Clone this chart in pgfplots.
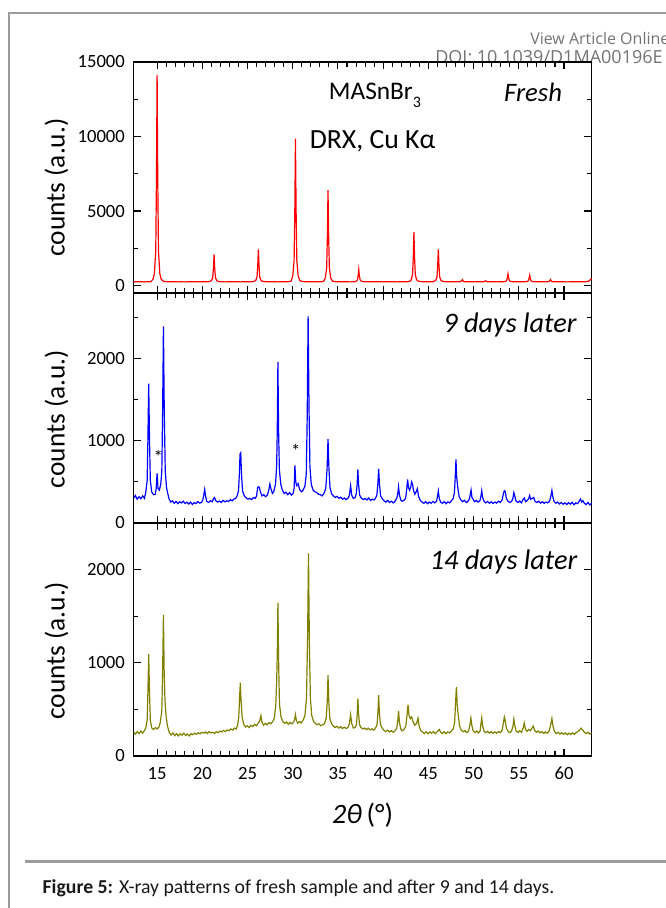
\documentclass[border=0pt]{standalone}
\usepackage{pgfplots}
\pgfplotsset{compat=1.18}
\usepackage{fontspec}
\setmainfont{Carlito}
\newfontfamily\osans{Open Sans}
\definecolor{olivec}{RGB}{128,128,0}
\definecolor{framegray}{RGB}{155,155,155}
\definecolor{doigray}{RGB}{115,115,115}
\pgfplotsset{panel/.style={scale only axis, width=343.5pt, anchor=south west,
  xmin=12.4, xmax=63.05, xtick={15,20,...,60}, minor x tick num=4,
  tick align=inside, major tick length=5.6pt, minor tick length=3.5pt,
  axis line style={line width=0.9pt}, tick style={line width=0.8pt,black},
  ticklabel style={font=\fontsize{14}{14}\selectfont},
  scaled y ticks=false, scaled x ticks=false,
  /pgf/number format/assume math mode=true, /pgf/number format/1000 sep={},
  yticklabel style={xshift=-3pt}, xticklabel style={yshift=-5pt}, clip=true}}
\begin{document}
\begin{tikzpicture}
\useasboundingbox (0pt,0pt) rectangle (498.75pt,681pt);
\draw[framegray, line width=1.6pt] (6.7pt,-5pt) -- (6.7pt,671pt) -- (520pt,671pt);
\draw[framegray, line width=2.4pt] (18.75pt,34.7pt) -- (520pt,34.7pt);
\node[anchor=base west, inner sep=0, text=doigray, font=\osans\fontsize{12}{12}\selectfont] at (397.5pt,647.8pt) {View Article Online};
\node[anchor=base west, inner sep=0, text=doigray, font=\osans\fontsize{13.5}{13}\selectfont] at (326.3pt,633pt) {DOI: 10.1039/D1MA00196E};
\node[anchor=base west, inner sep=0, text=black!90, font=\fontsize{14.8}{15}\selectfont] at (31.8pt,10.5pt) {\textbf{Figure 5:} X-ray patterns of fresh sample and after 9 and 14 days.};

% ---------- Fresh ----------
\begin{axis}[panel, at={(100.2pt,461.25pt)}, height=173.25pt, ymin=-500, ymax=15000,
  ytick={0,5000,10000,15000}, minor ytick={2500,7500,12500}, xticklabel=\empty]
\addplot[red, line width=0.9pt] coordinates {
(12.4,262) (12.8,248) (13.2,255) (13.6,243) (14.0,258) (14.3,262) (14.55,420) (14.7,806) (14.85,2334) (14.93,7195) (15.0,14140) (15.07,7195) (15.15,2334) (15.3,806) (15.45,420) (15.7,290) (16.1,255) (16.5,248) (16.9,258) (17.3,246) (17.7,252) (18.1,243) (18.5,256) (18.9,249) (19.3,258) (19.7,247) (20.1,255) (20.5,250) (20.8,270) (21.0,323) (21.15,525) (21.23,1168) (21.3,2085) (21.37,1168) (21.45,525) (21.6,323) (21.8,268) (22.2,252) (22.6,246) (23.0,257) (23.4,249) (23.8,255) (24.2,246) (24.6,254) (25.0,250) (25.4,258) (25.7,272) (25.9,337) (26.05,576) (26.13,1335) (26.2,2420) (26.27,1335) (26.35,576) (26.5,337) (26.7,275) (27.1,255) (27.5,249) (27.9,258) (28.3,246) (28.7,255) (29.1,251) (29.5,260) (29.8,290) (30.0,634) (30.15,1692) (30.23,5055) (30.3,9860) (30.37,5055) (30.45,1692) (30.6,634) (30.8,330) (31.1,268) (31.5,252) (31.9,258) (32.3,247) (32.7,256) (33.1,250) (33.4,275) (33.6,496) (33.75,1174) (33.83,3330) (33.9,6410) (33.97,3330) (34.05,1174) (34.2,496) (34.4,290) (34.8,255) (35.2,248) (35.6,257) (36.0,250) (36.4,246) (36.8,258) (37.0,283) (37.15,374) (37.23,663) (37.3,1075) (37.37,663) (37.45,374) (37.6,283) (37.9,255) (38.3,248) (38.7,256) (39.1,249) (39.5,255) (39.9,247) (40.3,258) (40.7,250) (41.1,255) (41.5,246) (41.9,257) (42.3,251) (42.7,258) (43.0,300) (43.1,383) (43.25,750) (43.33,1918) (43.4,3585) (43.47,1918) (43.55,750) (43.7,383) (43.9,290) (44.3,255) (44.7,248) (45.1,257) (45.5,252) (45.8,337) (45.95,576) (46.03,1335) (46.1,2420) (46.17,1335) (46.25,576) (46.4,337) (46.6,275) (47.0,252) (47.4,258) (47.8,247) (48.2,255) (48.45,256) (48.6,273) (48.68,325) (48.75,400) (48.82,325) (48.9,273) (49.05,256) (49.4,250) (49.8,257) (50.2,247) (50.6,255) (51.0,250) (51.15,261) (51.3,320) (51.45,261) (51.7,252) (52.1,258) (52.5,247) (52.9,255) (53.3,251) (53.5,271) (53.65,330) (53.73,515) (53.8,780) (53.87,515) (53.95,330) (54.1,271) (54.4,255) (54.8,248) (55.2,257) (55.6,250) (55.9,268) (56.05,316) (56.13,470) (56.2,690) (56.27,470) (56.35,316) (56.5,268) (56.8,255) (57.2,248) (57.6,256) (58.0,250) (58.2,256) (58.35,273) (58.43,325) (58.5,400) (58.57,325) (58.65,273) (58.8,256) (59.2,248) (59.6,256) (60.0,250) (60.4,245) (60.8,255) (61.2,248) (61.6,256) (62.0,250) (62.4,258) (62.7,290) (62.9,380) (63.05,490)
};
\end{axis}

% ---------- 9 days ----------
\begin{axis}[panel, at={(100.2pt,288.75pt)}, height=172.5pt, ymin=0, ymax=2800,
  ytick={0,1000,2000}, minor ytick={500,1500,2500}, xticklabel=\empty]
\addplot[blue, line width=0.9pt] coordinates {
(12.4,300) (12.6,335) (12.8,290) (13.0,320) (13.2,295) (13.4,330) (13.6,300) (13.75,379) (13.9,518) (13.98,1004) (14.07,1697) (14.16,1004) (14.25,518) (14.4,379) (14.6,345) (14.8,350) (14.9,420) (15.0,604) (15.1,420) (15.25,400) (15.4,470) (15.52,631) (15.61,1357) (15.7,2394) (15.79,1357) (15.9,631) (16.05,424) (16.3,300) (16.5,255) (16.7,270) (16.9,240) (17.1,262) (17.3,235) (17.5,258) (17.7,244) (17.9,265) (18.1,238) (18.3,252) (18.5,230) (18.7,255) (18.9,225) (19.1,248) (19.3,236) (19.5,260) (19.7,242) (19.9,250) (20.05,280) (20.16,340) (20.26,409) (20.36,330) (20.48,265) (20.7,250) (20.9,272) (21.1,258) (21.25,300) (21.35,310) (21.5,270) (21.7,255) (21.9,268) (22.1,250) (22.3,275) (22.5,258) (22.7,270) (22.9,262) (23.1,285) (23.3,270) (23.5,292) (23.7,300) (23.85,330) (24.0,390) (24.1,600) (24.17,840) (24.25,854) (24.33,600) (24.45,390) (24.65,330) (24.85,305) (25.05,290) (25.25,300) (25.45,285) (25.65,310) (25.85,300) (26.0,330) (26.12,430) (26.2,441) (26.3,435) (26.42,380) (26.6,330) (26.8,345) (27.0,320) (27.2,340) (27.35,400) (27.47,474) (27.58,420) (27.75,360) (27.9,380) (28.1,480) (28.22,700) (28.29,1150) (28.36,1960) (28.43,1150) (28.52,650) (28.68,470) (28.85,400) (29.05,360) (29.25,375) (29.45,345) (29.65,370) (29.85,340) (30.05,360) (30.15,420) (30.24,701) (30.33,500) (30.45,455) (30.6,480) (30.75,410) (30.95,380) (31.15,400) (31.35,450) (31.5,600) (31.6,1300) (31.7,2519) (31.8,1400) (31.9,680) (32.05,470) (32.25,400) (32.45,380) (32.65,370) (32.85,350) (33.05,345) (33.25,330) (33.45,360) (33.65,420) (33.8,668) (33.9,1025) (34.0,668) (34.12,430) (34.3,355) (34.5,330) (34.7,310) (34.9,325) (35.1,300) (35.3,315) (35.5,290) (35.7,305) (35.9,285) (36.1,300) (36.25,330) (36.4,454) (36.52,340) (36.7,300) (36.9,310) (37.03,360) (37.12,470) (37.2,652) (37.28,470) (37.4,340) (37.6,300) (37.8,285) (38.0,300) (38.2,280) (38.4,305) (38.6,275) (38.8,290) (39.0,280) (39.15,300) (39.3,340) (39.41,470) (39.5,660) (39.59,470) (39.72,330) (39.9,295) (40.1,270) (40.3,255) (40.5,275) (40.7,250) (40.9,265) (41.1,245) (41.3,262) (41.5,300) (41.62,360) (41.7,441) (41.8,340) (41.95,280) (42.1,265) (42.3,275) (42.48,300) (42.6,410) (42.7,531) (42.8,430) (42.92,400) (43.05,440) (43.15,500) (43.25,470) (43.35,400) (43.5,350) (43.65,380) (43.78,417) (43.9,330) (44.1,275) (44.3,255) (44.5,240) (44.7,260) (44.9,235) (45.1,255) (45.3,240) (45.5,262) (45.7,245) (45.9,265) (46.0,320) (46.1,389) (46.2,300) (46.35,255) (46.55,240) (46.75,260) (46.95,235) (47.15,258) (47.35,245) (47.55,270) (47.75,300) (47.88,370) (47.97,560) (48.05,774) (48.13,560) (48.25,430) (48.4,320) (48.6,280) (48.8,260) (49.0,275) (49.2,250) (49.4,265) (49.55,300) (49.65,360) (49.72,401) (49.82,310) (49.95,290) (50.1,260) (50.3,275) (50.5,255) (50.7,270) (50.82,330) (50.9,393) (51.0,310) (51.15,265) (51.35,245) (51.55,262) (51.75,240) (51.95,258) (52.15,238) (52.35,255) (52.55,242) (52.75,265) (52.95,250) (53.15,280) (53.3,360) (53.4,393) (53.5,385) (53.62,300) (53.8,265) (54.0,250) (54.2,262) (54.35,300) (54.45,370) (54.55,330) (54.7,265) (54.9,250) (55.1,268) (55.3,245) (55.45,285) (55.6,305) (55.75,260) (55.95,275) (56.1,300) (56.2,335) (56.3,290) (56.5,300) (56.65,310) (56.8,262) (57.0,250) (57.2,265) (57.4,242) (57.6,258) (57.8,240) (58.0,255) (58.2,245) (58.4,265) (58.55,330) (58.66,397) (58.76,320) (58.9,262) (59.1,240) (59.3,255) (59.5,232) (59.7,250) (59.9,228) (60.1,245) (60.3,225) (60.5,248) (60.7,230) (60.9,252) (61.1,222) (61.3,245) (61.5,235) (61.7,270) (61.82,292) (61.95,255) (62.1,270) (62.25,240) (62.45,225) (62.65,250) (62.85,220) (63.05,240)
};
\node[font=\fontsize{14}{14}\selectfont, inner sep=0] at (axis cs:15.14,800) {*};
\node[font=\fontsize{14}{14}\selectfont, inner sep=0] at (axis cs:30.33,880) {*};
\end{axis}

% ---------- 14 days ----------
\begin{axis}[panel, at={(100.2pt,114pt)}, height=174.75pt, ymin=0, ymax=2500,
  ytick={0,1000,2000}, minor ytick={500,1500}]
\addplot[olivec, line width=0.9pt] coordinates {
(12.4,255) (12.6,235) (12.8,262) (13.0,240) (13.2,268) (13.4,245) (13.6,272) (13.75,302) (13.9,385) (13.98,676) (14.07,1092) (14.16,676) (14.25,385) (14.4,302) (14.6,285) (14.8,305) (15.0,290) (15.2,310) (15.35,361) (15.52,482) (15.61,907) (15.7,1514) (15.78,907) (15.87,600) (16.0,420) (16.15,320) (16.35,250) (16.55,225) (16.75,248) (16.95,218) (17.15,240) (17.35,215) (17.55,238) (17.75,222) (17.95,245) (18.15,220) (18.35,236) (18.55,215) (18.75,240) (18.95,228) (19.15,245) (19.35,232) (19.55,250) (19.75,238) (19.95,255) (20.15,245) (20.35,258) (20.55,240) (20.75,262) (20.95,248) (21.15,255) (21.35,242) (21.55,260) (21.75,250) (21.95,268) (22.15,258) (22.35,275) (22.55,262) (22.75,280) (22.95,270) (23.15,290) (23.35,278) (23.55,300) (23.75,290) (23.9,330) (24.03,420) (24.12,620) (24.2,786) (24.28,600) (24.4,420) (24.58,340) (24.78,310) (24.98,325) (25.18,305) (25.38,330) (25.58,315) (25.78,340) (25.98,325) (26.18,350) (26.35,380) (26.48,432) (26.6,360) (26.78,330) (26.98,350) (27.18,335) (27.38,360) (27.58,345) (27.78,370) (27.95,400) (28.12,540) (28.22,800) (28.29,1100) (28.36,1643) (28.43,1050) (28.53,560) (28.7,420) (28.9,370) (29.1,350) (29.3,365) (29.5,340) (29.7,360) (29.9,345) (30.1,365) (30.22,400) (30.3,443) (30.4,380) (30.55,350) (30.75,370) (30.95,355) (31.15,385) (31.35,436) (31.52,619) (31.64,1259) (31.74,2173) (31.84,1200) (31.95,619) (32.1,436) (32.3,370) (32.5,350) (32.7,335) (32.9,345) (33.1,325) (33.3,335) (33.5,347) (33.7,402) (33.82,594) (33.9,868) (33.98,594) (34.1,402) (34.3,347) (34.5,320) (34.7,305) (34.9,320) (35.1,300) (35.3,315) (35.5,295) (35.7,310) (35.9,295) (36.1,305) (36.25,340) (36.4,443) (36.52,350) (36.7,300) (36.9,306) (37.05,339) (37.13,453) (37.2,616) (37.28,453) (37.38,339) (37.55,306) (37.75,290) (37.95,300) (38.15,282) (38.35,298) (38.55,280) (38.75,292) (38.95,278) (39.15,299) (39.32,336) (39.42,466) (39.5,652) (39.58,466) (39.7,336) (39.9,299) (40.1,275) (40.3,262) (40.5,278) (40.7,258) (40.9,272) (41.1,255) (41.3,268) (41.5,300) (41.62,380) (41.7,483) (41.8,360) (41.95,290) (42.1,270) (42.3,285) (42.5,320) (42.65,450) (42.75,551) (42.85,440) (43.0,400) (43.15,420) (43.3,370) (43.5,330) (43.7,350) (43.85,407) (43.98,320) (44.15,275) (44.35,258) (44.55,240) (44.75,262) (44.95,238) (45.15,258) (45.35,245) (45.55,262) (45.75,240) (45.95,258) (46.1,275) (46.2,285) (46.35,255) (46.55,240) (46.75,260) (46.95,238) (47.15,258) (47.35,248) (47.55,268) (47.75,290) (47.9,360) (48.0,560) (48.1,742) (48.18,560) (48.3,440) (48.45,320) (48.65,275) (48.85,260) (49.05,272) (49.25,250) (49.45,268) (49.6,340) (49.7,407) (49.8,330) (49.95,270) (50.15,252) (50.35,268) (50.55,248) (50.72,270) (50.82,350) (50.9,407) (51.0,320) (51.15,268) (51.35,250) (51.55,265) (51.75,245) (51.95,262) (52.15,242) (52.35,258) (52.55,245) (52.75,262) (52.95,250) (53.15,275) (53.3,360) (53.4,418) (53.5,380) (53.62,300) (53.8,265) (54.0,250) (54.2,268) (54.35,320) (54.45,396) (54.55,330) (54.7,268) (54.9,252) (55.1,270) (55.3,255) (55.48,300) (55.6,353) (55.72,290) (55.9,265) (56.1,285) (56.3,272) (56.45,300) (56.6,320) (56.75,275) (56.95,255) (57.15,268) (57.35,248) (57.55,262) (57.75,242) (57.95,258) (58.15,245) (58.35,268) (58.52,330) (58.66,403) (58.78,320) (58.95,262) (59.15,240) (59.35,255) (59.55,235) (59.75,250) (59.95,232) (60.15,248) (60.35,228) (60.55,245) (60.75,230) (60.95,248) (61.15,232) (61.35,252) (61.55,262) (61.75,280) (61.9,299) (62.05,280) (62.25,255) (62.45,240) (62.65,255) (62.85,235) (63.05,248)
};
\end{axis}

% ---------- texts ----------
\node[rotate=90, font=\fontsize{20.5}{21}\selectfont] at (42.4pt,540.4pt) {counts (a.u.)};
\node[rotate=90, font=\fontsize{20.5}{21}\selectfont] at (42.4pt,366.75pt) {counts (a.u.)};
\node[rotate=90, font=\fontsize{20.5}{21}\selectfont] at (42.4pt,193pt) {counts (a.u.)};
\node[font=\fontsize{21}{22}\selectfont] at (271.95pt,69.75pt) {\textit{2θ}\,(°)};
\node[anchor=base west, inner sep=0, font=\fontsize{19}{20}\selectfont] at (246.5pt,606pt) {MASnBr\raisebox{-0.3em}{\fontsize{12}{12}\selectfont 3}};
\node[anchor=base west, inner sep=0, font=\fontsize{20.8}{21}\selectfont] at (232.2pt,569.8pt) {DRX, Cu Kα};
\node[anchor=base west, inner sep=0, font=\fontsize{20}{21}\selectfont\itshape] at (377.9pt,604.8pt) {Fresh};
\node[anchor=base east, inner sep=0, font=\fontsize{21.2}{22}\selectfont\itshape] at (432.6pt,431.5pt) {9 days later};
\node[anchor=base east, inner sep=0, font=\fontsize{21.2}{22}\selectfont\itshape] at (433.2pt,254pt) {14 days later};
\end{tikzpicture}
\end{document}
